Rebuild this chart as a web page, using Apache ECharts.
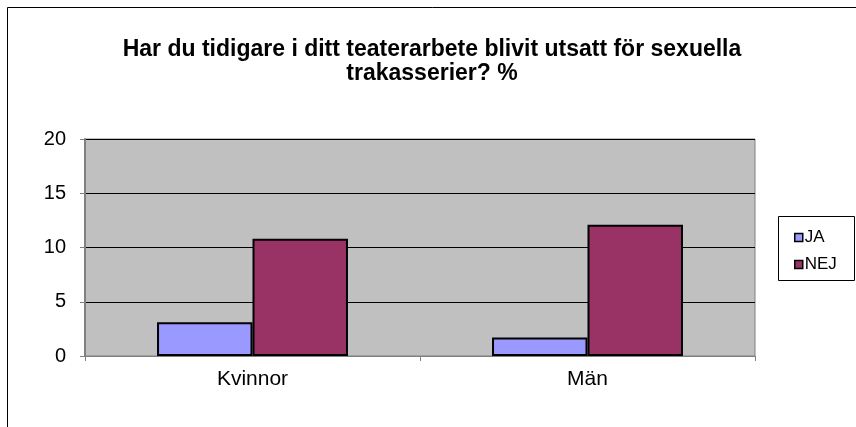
<!DOCTYPE html>
<html>
<head>
<meta charset="utf-8">
<script src="https://cdn.jsdelivr.net/npm/echarts@6/dist/echarts.min.js"></script>
<style>
  html, body { margin: 0; padding: 0; background: #fff; }
  #chart { width: 856px; height: 427px; }
</style>
</head>
<body>
<div id="chart"></div>
<script>
// Survey answers in percent, per gender group
const categories = ['Kvinnor', 'Män'];
const seriesNames = ['JA', 'NEJ'];
const jaValues = [3.1, 1.7];
const nejValues = [10.8, 12.1];
const yTicks = [0, 5, 10, 15, 20];

const FONT = '"Liberation Sans", Arial, sans-serif';

const chart = echarts.init(document.getElementById('chart'), null, { renderer: 'canvas' });

const barStyle = (color) => ({
  color: color,
  borderColor: '#000',
  borderWidth: 2
});

chart.setOption({
  backgroundColor: '#ffffff',
  animation: false,
  title: {
    text: 'Har du tidigare i ditt teaterarbete blivit utsatt för sexuella\ntrakasserier? %',
    left: 427,
    top: 33,
    textAlign: 'center',
    textStyle: {
      fontFamily: FONT,
      fontWeight: 'bold',
      fontSize: 23,
      lineHeight: 24,
      color: '#000'
    }
  },
  legend: {
    orient: 'vertical',
    left: 789,
    top: 224,
    itemWidth: 8,
    itemHeight: 8,
    itemGap: 10,
    icon: 'rect',
    data: seriesNames,
    itemStyle: { borderColor: '#000', borderWidth: 1.5 },
    textStyle: { fontFamily: FONT, fontSize: 17, color: '#000', padding: [0, 0, 0, -3] }
  },
  grid: {
    left: 85,
    right: 101,
    top: 139,
    bottom: 71,
    show: true,
    backgroundColor: '#c0c0c0',
    borderColor: '#808080',
    borderWidth: 1
  },
  xAxis: {
    type: 'category',
    data: categories,
    axisLine: { show: true, lineStyle: { color: '#808080', width: 1 } },
    axisTick: { show: true, length: 5, lineStyle: { color: '#808080' } },
    axisLabel: { fontFamily: FONT, fontSize: 21, color: '#000', margin: 13 }
  },
  yAxis: {
    type: 'value',
    min: 0,
    max: 20,
    interval: 5,
    axisLine: { show: true, lineStyle: { color: '#808080', width: 2 } },
    axisTick: { show: true, length: 5, lineStyle: { color: '#808080' } },
    axisLabel: {
      fontFamily: FONT, fontSize: 20, color: '#000', margin: 19,
      formatter: (v) => (yTicks.includes(v) ? String(v) : '')
    },
    splitLine: { show: true, lineStyle: { color: '#000', width: 1 } }
  },
  series: [
    {
      name: seriesNames[0],
      type: 'bar',
      data: jaValues,
      barGap: '0%',
      barCategoryGap: '43%',
      itemStyle: barStyle('#9999ff')
    },
    {
      name: seriesNames[1],
      type: 'bar',
      data: nejValues,
      barGap: '0%',
      barCategoryGap: '43%',
      itemStyle: barStyle('#993366')
    }
  ],
  graphic: [
    {
      // chart area frame
      type: 'rect',
      silent: true,
      shape: { x: 7.5, y: 7.5, width: 900, height: 500 },
      style: { fill: 'none', stroke: '#000', lineWidth: 1 }
    },
    {
      // legend frame
      type: 'rect',
      silent: true,
      shape: { x: 778.5, y: 216.5, width: 76, height: 64 },
      style: { fill: '#fff', stroke: '#000', lineWidth: 1 },
      z: 1
    }
  ]
});
</script>
</body>
</html>
